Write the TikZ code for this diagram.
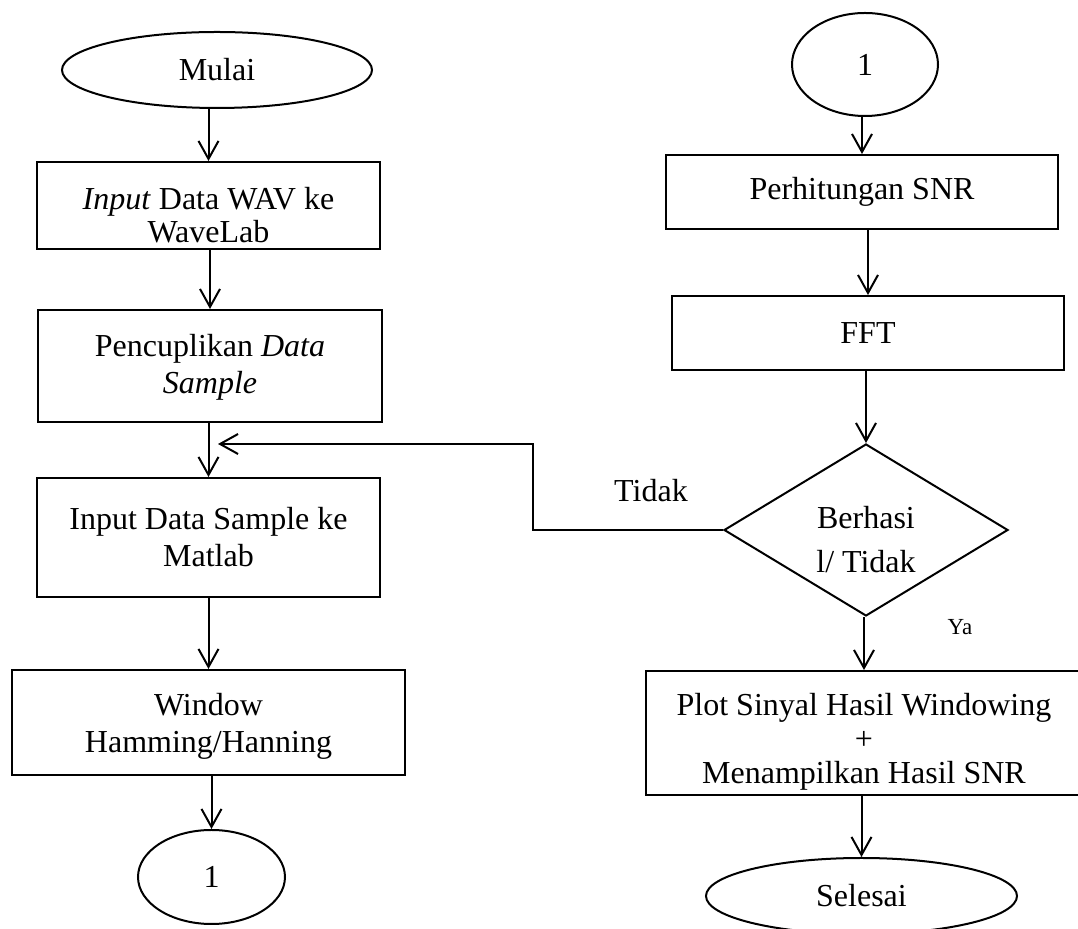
\documentclass[tikz,border=0pt]{standalone}
\usepackage{fontspec}
\setmainfont{Liberation Serif}
\usetikzlibrary{shapes.geometric,arrows.meta}
\newcommand{\tinggi}[1]{\rule{0pt}{#1}}

\begin{document}
\begin{tikzpicture}[x=0.5pt,y=-0.5pt,
    kotak/.style={draw,line width=1pt,rectangle,align=center,inner sep=0pt,font=\fontsize{16pt}{18.5pt}\selectfont},
    oval/.style={draw,line width=1pt,ellipse,inner sep=0pt,font=\fontsize{16pt}{18.5pt}\selectfont},
    panah/.style={line width=1pt,-{Straight Barb[length=9pt,width=10pt]}}]
            \useasboundingbox (0,0) rectangle (1078,929);

            % kolom kiri
            \node (mulai) at (217,70) [oval,minimum width=155pt,minimum height=38pt] {Mulai};
            \node (wav) at (208.5,205.5) [kotak,minimum width=171.5pt,minimum height=43.5pt,font=\fontsize{16pt}{16.5pt}\selectfont] {\tinggi{21pt}\textit{Input} Data WAV ke\\WaveLab};
            \node (cuplik) at (210,366) [kotak,minimum width=172pt,minimum height=56pt] {\tinggi{12.5pt}Pencuplikan \textit{Data}\\\textit{Sample}};
            \node (matlab) at (208.5,537.5) [kotak,minimum width=171.5pt,minimum height=59.5pt] {Input Data Sample ke\\Matlab};
            \node (window) at (208.5,722.5) [kotak,minimum width=196.5pt,minimum height=52.5pt] {\tinggi{14.5pt}Window\\Hamming/Hanning};
            \node (satuA) at (211.5,877) [oval,minimum width=73.5pt,minimum height=47pt] {1};

            % kolom kanan
            \node (satuB) at (865,64.5) [oval,minimum width=73pt,minimum height=51.5pt] {1};
            \node (snr) at (862,192) [kotak,minimum width=196pt,minimum height=37pt] {Perhitungan SNR};
            \node (fft) at (868,333) [kotak,minimum width=196pt,minimum height=37pt] {FFT};
            \node (cek) at (866,530) [kotak,diamond,aspect=1.65,minimum width=142pt,minimum height=86pt,font=\fontsize{16pt}{22pt}\selectfont] {\tinggi{21pt}Berhasi\\l/ Tidak};
            \node (plot) at (864,733) [kotak,minimum width=218pt,minimum height=62pt,font=\fontsize{16pt}{17pt}\selectfont] {\tinggi{19.5pt}Plot Sinyal Hasil Windowing\\+\\Menampilkan Hasil SNR};
            \node (selesai) at (861.5,896) [oval,minimum width=155.5pt,minimum height=38pt] {Selesai};

            \node (tidak) at (651,491) [font=\fontsize{16pt}{18.5pt}\selectfont] {Tidak};
            \node (ya) at (960,627) [font=\fontsize{11.5pt}{14pt}\selectfont] {Ya};

            % panah
            \draw[panah] (wav.north |- mulai.south) -- (wav.north);
            \draw[panah] (cuplik.north |- wav.south) -- (cuplik.north);
            \draw[panah] (matlab.north |- cuplik.south) -- (matlab.north);
            \draw[panah] (window.north |- matlab.south) -- (window.north);
            \draw[panah] (satuA.north |- window.south) -- (satuA.north);

            \draw[panah] (snr.north |- satuB.south) -- (snr.north);
            \draw[panah] (fft.north |- snr.south) -- (fft.north);
            \draw[panah] (cek.north |- fft.south) -- (cek.north);
            \draw[panah] (plot.north |- cek.south) -- (plot.north);
            \draw[panah] (selesai.north |- plot.south) -- (selesai.north);

            % kembali ke input
            \coordinate (belok) at (533,444);
            \coordinate (balik) at (218,444);
            \draw[panah] (cek.west) -| (belok) -- (balik);

\end{tikzpicture}
\end{document}
